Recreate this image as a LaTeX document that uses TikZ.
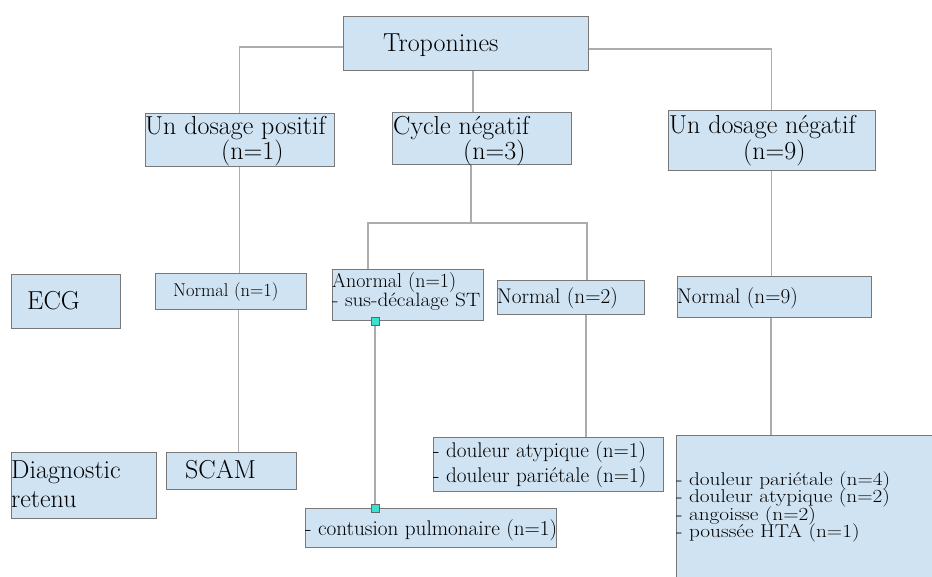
\documentclass[tikz,border=0pt]{standalone}
\usepackage{graphicx}
\usetikzlibrary{fit,backgrounds}
\definecolor{boxfill}{RGB}{207,227,243}
\definecolor{boxline}{RGB}{120,120,120}
\definecolor{linkline}{RGB}{172,172,172}
\definecolor{handle}{RGB}{64,224,208}
\newcommand\headfont{\fontsize{26}{27}\selectfont}
\newcommand\itemfont{\fontsize{21.2}{18}\selectfont}
\newcommand\listfont{\fontsize{18.5}{17.5}\selectfont}
\newcommand\wide[1]{\scalebox{1.15}[1]{#1}}
\begin{document}
\begin{tikzpicture}[x=1pt,y=-1pt,
  bx/.style={draw=boxline,line width=0.9pt,fill=boxfill,inner sep=0pt},
  conn/.style={draw=linkline,line width=1.1pt},
  txt/.style={anchor=base west,inner sep=0pt,text=black,text height=0.62em,text depth=0.12em},
  handlebox/.style={draw=black!60,fill=handle,line width=0.6pt,minimum size=8pt,inner sep=0pt}]
\useasboundingbox (0,0) rectangle (932,577);

% boxes
\node[bx,fit={(343,16) (588,70)}] (trop) {};
\node[bx,fit={(145,113) (334,166)}] (pos) {};
\node[bx,fit={(392,112) (571,164)}] (cyc) {};
\node[bx,fit={(668,110) (875,170)}] (neg) {};
\node[bx,fit={(11,274) (120,328)}] (ecg) {};
\node[bx,fit={(155,273) (306,309)}] (n1) {};
\node[bx,fit={(332,269) (483,320)}] (an) {};
\node[bx,fit={(497,280) (644,314)}] (n2) {};
\node[bx,fit={(677,276) (871,317)}] (n9) {};
\node[bx,fit={(11,452) (156,518)}] (diag) {};
\node[bx,fit={(166,452) (296,489)}] (scam) {};
\node[bx,fit={(433,437) (663,491)}] (dpa) {};
\node[bx,fit={(305,508) (556,547)}] (cont) {};
\node[bx,fit={(676,435) (945,595)}] (big) {};

% selection handles on the ECG-to-diagnosis link
\node[handlebox] (h1) at (375,321) {};
\node[handlebox] (h2) at (375,508) {};

% connectors, kept behind the boxes
\begin{scope}[on background layer]
\fill[white] (0,0) rectangle (932,577);
\draw[conn] ([yshift=-4pt]trop.west) -| (pos.north);
\draw[conn] ([yshift=-6pt]trop.east) -| (neg.north);
\draw[conn] ([xshift=7.5pt]trop.south) -- ([xshift=7.5pt]trop.south |- cyc.north);
\coordinate (fork) at (471,223);
\draw[conn] (fork |- cyc.south) -- (fork);
\draw[conn] (fork) -| ([xshift=-39.5pt]an.north);
\draw[conn] (fork) -| ([xshift=16.5pt]n2.north);
\draw[conn] (pos.south) -- (pos.south |- n1.north);
\draw[conn] ([xshift=8pt]n1.south) -- ([xshift=8pt]n1.south |- scam.north);
\draw[conn] (neg.south) -- (neg.south |- n9.north);
\draw[conn] ([xshift=-3pt]n9.south) -- ([xshift=-3pt]n9.south |- big.north);
\draw[conn] ([xshift=15.5pt]n2.south) -- ([xshift=15.5pt]n2.south |- dpa.north);
\draw[conn] (h1) -- (h2);
\end{scope}

% texts
\node[txt,font=\headfont] at (383,52) {Troponines};
\node[txt,font=\headfont] at (145,135) {Un dosage positif};
\node[txt,font=\headfont] at (221,160) {(n=1)};
\node[txt,font=\headfont] at (393,135) {Cycle négatif};
\node[txt,font=\headfont] at (463,160) {(n=3)};
\node[txt,font=\headfont] at (669,134) {Un dosage négatif};
\node[txt,font=\headfont] at (743,160) {(n=9)};
\node[txt,font=\headfont] at (27,310) {ECG};
\node[txt,font=\fontsize{18.5}{20}\selectfont] at (173,297) {Normal (n=1)};
\node[txt,font=\fontsize{20}{18}\selectfont] at (332,288) {Anormal (n=1)};
\node[txt,font=\fontsize{19.3}{18}\selectfont] at (332,307) {\scalebox{1.1}[1]{- sus-décalage ST}};
\node[txt,font=\itemfont] at (497,304) {Normal (n=2)};
\node[txt,font=\itemfont] at (677,304) {Normal (n=9)};
\node[txt,font=\headfont] at (11,478) {Diagnostic};
\node[txt,font=\headfont] at (11,507) {retenu};
\node[txt,font=\headfont] at (185,478) {SCAM};
\node[txt,font=\itemfont] at (433,457) {- douleur atypique (n=1)};
\node[txt,font=\itemfont] at (433,482) {- douleur pariétale (n=1)};
\node[txt,font=\itemfont] at (305,535) {- contusion pulmonaire (n=1)};
\node[txt,font=\listfont] at (676,485) {\wide{- douleur pariétale (n=4)}};
\node[txt,font=\listfont] at (676,502.5) {\wide{- douleur atypique (n=2)}};
\node[txt,font=\listfont] at (676,520) {\wide{- angoisse (n=2)}};
\node[txt,font=\listfont] at (676,537.5) {\wide{- poussée HTA (n=1)}};
\end{tikzpicture}
\end{document}
